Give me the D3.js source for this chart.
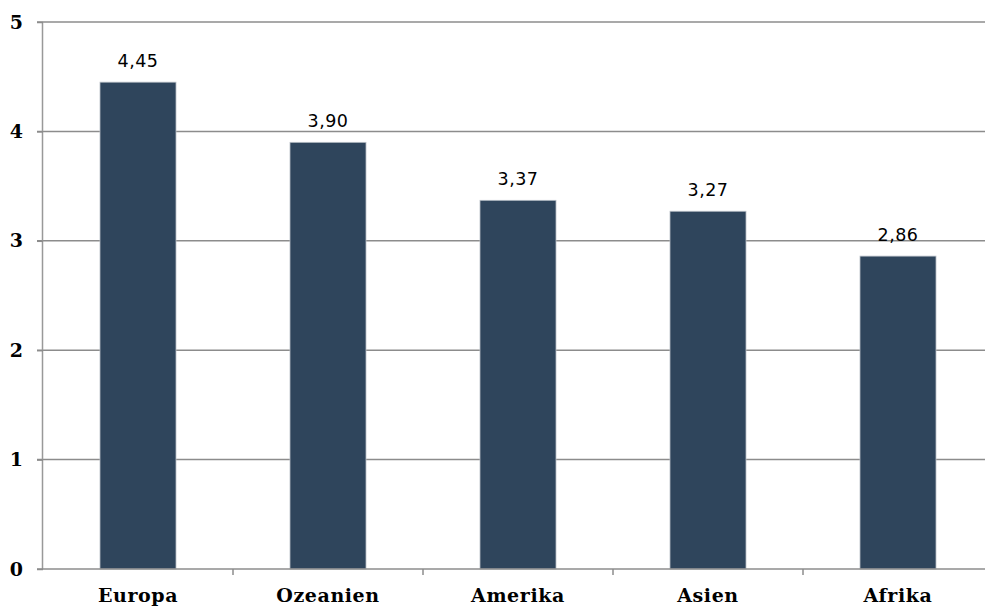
<!DOCTYPE html>
<html><head><meta charset="utf-8">
<script src="https://cdn.jsdelivr.net/npm/d3@7"></script>
<style>body{margin:0;background:#fff}svg{display:block}</style>
</head><body>
<script>
const categories = ["Europa","Ozeanien","Amerika","Asien","Afrika"];
const values = [4.45, 3.90, 3.37, 3.27, 2.86];
const valueLabels = ["4,45","3,90","3,37","3,27","2,86"];
const yTicks = [0,1,2,3,4,5];

const W = 985, H = 606;
const m = {left: 43, right: -8, top: 22, bottom: 37};
const svg = d3.select("body").append("svg").attr("width", W).attr("height", H);

const x = d3.scaleBand().domain(categories).range([m.left, W - m.right]).paddingInner(0.6).paddingOuter(0.3);
const y = d3.scaleLinear().domain([0,5]).range([H - m.bottom, m.top]);

// gridlines
svg.append("g").selectAll("line").data(yTicks.filter(d => d > 0)).join("line")
  .attr("x1", m.left - 6).attr("x2", W).attr("y1", d => y(d)).attr("y2", d => y(d))
  .attr("stroke", "#8c8c8c").attr("stroke-width", 1.5);

// bars
svg.append("g").selectAll("rect").data(values).join("rect")
  .attr("x", (d,i) => x(categories[i])).attr("width", x.bandwidth())
  .attr("y", d => y(d)).attr("height", d => y(0) - y(d))
  .attr("fill", "#2f455c").attr("stroke", "#b8bec6").attr("stroke-width", 0.8);

// value labels
svg.append("g").selectAll("text").data(values).join("text")
  .attr("x", (d,i) => x(categories[i]) + x.bandwidth()/2).attr("y", d => y(d) - 15)
  .attr("text-anchor", "middle").attr("font-family", "DejaVu Sans, sans-serif")
  .attr("font-size", 17.5).attr("letter-spacing", 0.5).attr("fill", "#000").text((d,i) => valueLabels[i]);

// y axis
const yAxis = d3.axisLeft(y).tickValues(yTicks).tickSize(6).tickFormat(d3.format("d"));
const gy = svg.append("g").attr("transform", `translate(${m.left},0)`).call(yAxis);
gy.select(".domain").attr("stroke", "#999").attr("stroke-width", 1.5).attr("d", `M-0.5,${y(5)}V${y(0)}`);
gy.selectAll(".tick line").attr("stroke", "#8c8c8c").attr("stroke-width", 1.5);
gy.selectAll(".tick text").attr("x", -20).attr("font-family", "DejaVu Serif, serif").attr("font-weight", "bold")
  .attr("font-size", 19).attr("fill", "#000");

// x axis
const step = x.step();
const xBoundaries = categories.map((c,i) => m.left + step * (i + 1));
const gx = svg.append("g");
gx.append("line").attr("x1", m.left - 6).attr("x2", W).attr("y1", y(0)).attr("y2", y(0))
  .attr("stroke", "#8c8c8c").attr("stroke-width", 1.5);
gx.selectAll("line.t").data(xBoundaries).join("line").attr("class","t")
  .attr("x1", d => d).attr("x2", d => d).attr("y1", y(0)).attr("y2", y(0) + 6)
  .attr("stroke", "#8c8c8c").attr("stroke-width", 1.5);
gx.selectAll("text").data(categories).join("text")
  .attr("x", d => x(d) + x.bandwidth()/2).attr("y", y(0) + 33)
  .attr("text-anchor", "middle").attr("font-family", "DejaVu Serif, serif").attr("font-weight", "bold")
  .attr("font-size", 19).attr("letter-spacing", 0.6).attr("fill", "#000").text(d => d);
</script>
</body></html>
